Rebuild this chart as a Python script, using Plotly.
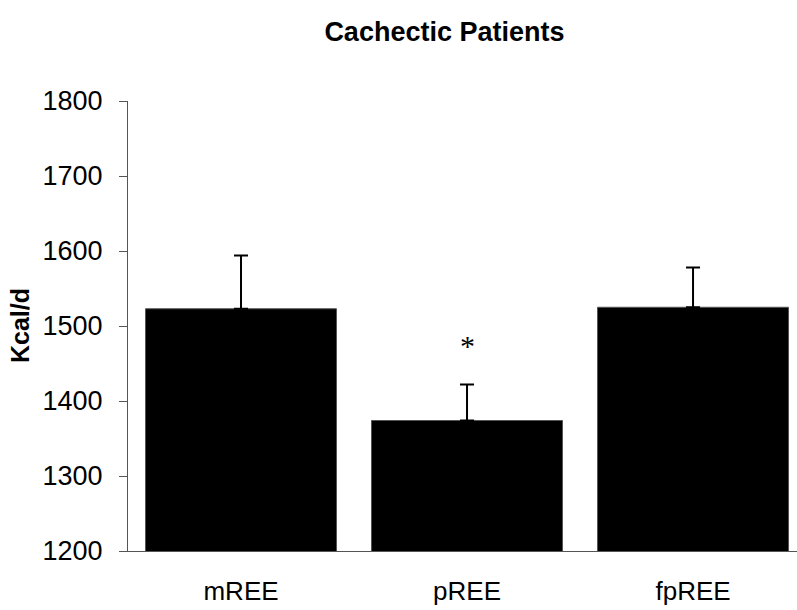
import plotly.graph_objects as go

categories = ["mREE", "pREE", "fpREE"]
means = [1523, 1374, 1525]
errors = [71, 48, 53]
significance = ["", "*", ""]
y_ticks = [1200, 1300, 1400, 1500, 1600, 1700, 1800]

FONT = "Arial, Liberation Sans, sans-serif"

fig = go.Figure()
fig.add_trace(go.Bar(
    x=categories,
    y=means,
    marker=dict(color="#000000", line=dict(color="#555555", width=1)),
    width=0.845,
    error_y=dict(type="data", array=errors, arrayminus=[0] * len(errors),
                 symmetric=False, color="#000000", thickness=2, width=7),
    showlegend=False,
))

for cat, m, e, s in zip(categories, means, errors, significance):
    if s:
        fig.add_annotation(x=cat, y=m + e + 52, text=s, showarrow=False,
                           font=dict(family="Liberation Serif, Times New Roman, serif",
                                     size=30, color="#000"),
                           yanchor="middle")

fig.add_annotation(text="<b>Kcal/d</b>", textangle=-90, xref="paper", yref="paper",
                   x=(20 - 128) / 669, y=0.5, xanchor="center", yanchor="middle",
                   showarrow=False, font=dict(family=FONT, size=25, color="#000"))

fig.update_layout(
    width=797, height=610,
    margin=dict(l=128, r=0, t=101, b=59, autoexpand=False),
    paper_bgcolor="white", plot_bgcolor="white",
    font=dict(family=FONT, color="#000"),
    title=dict(text="<b>Cachectic Patients</b>", x=0.473, xref="paper",
               xanchor="center", y=1 - 32 / 610, yanchor="middle",
               font=dict(family=FONT, size=27, color="#000")),
    bargap=0.155,
)
fig.update_xaxes(
    range=[-0.5, 2.46], automargin=False,
    showline=True, linecolor="#555555", linewidth=1,
    ticks="", showgrid=False, zeroline=False,
    tickfont=dict(family=FONT, size=26, color="#000"),
    ticklabelstandoff=17,
)
fig.update_yaxes(
    range=[1200, 1800], automargin=False,
    tickvals=y_ticks,
    showline=True, linecolor="#555555", linewidth=1,
    ticks="outside", ticklen=8, tickcolor="#555555", tickwidth=1,
    showgrid=False, zeroline=False,
    tickfont=dict(family=FONT, size=27, color="#000"),
    ticklabelstandoff=11,
)

fig.write_html("out.html", config={"displayModeBar": False},
               post_script="document.body.style.margin='0';")
